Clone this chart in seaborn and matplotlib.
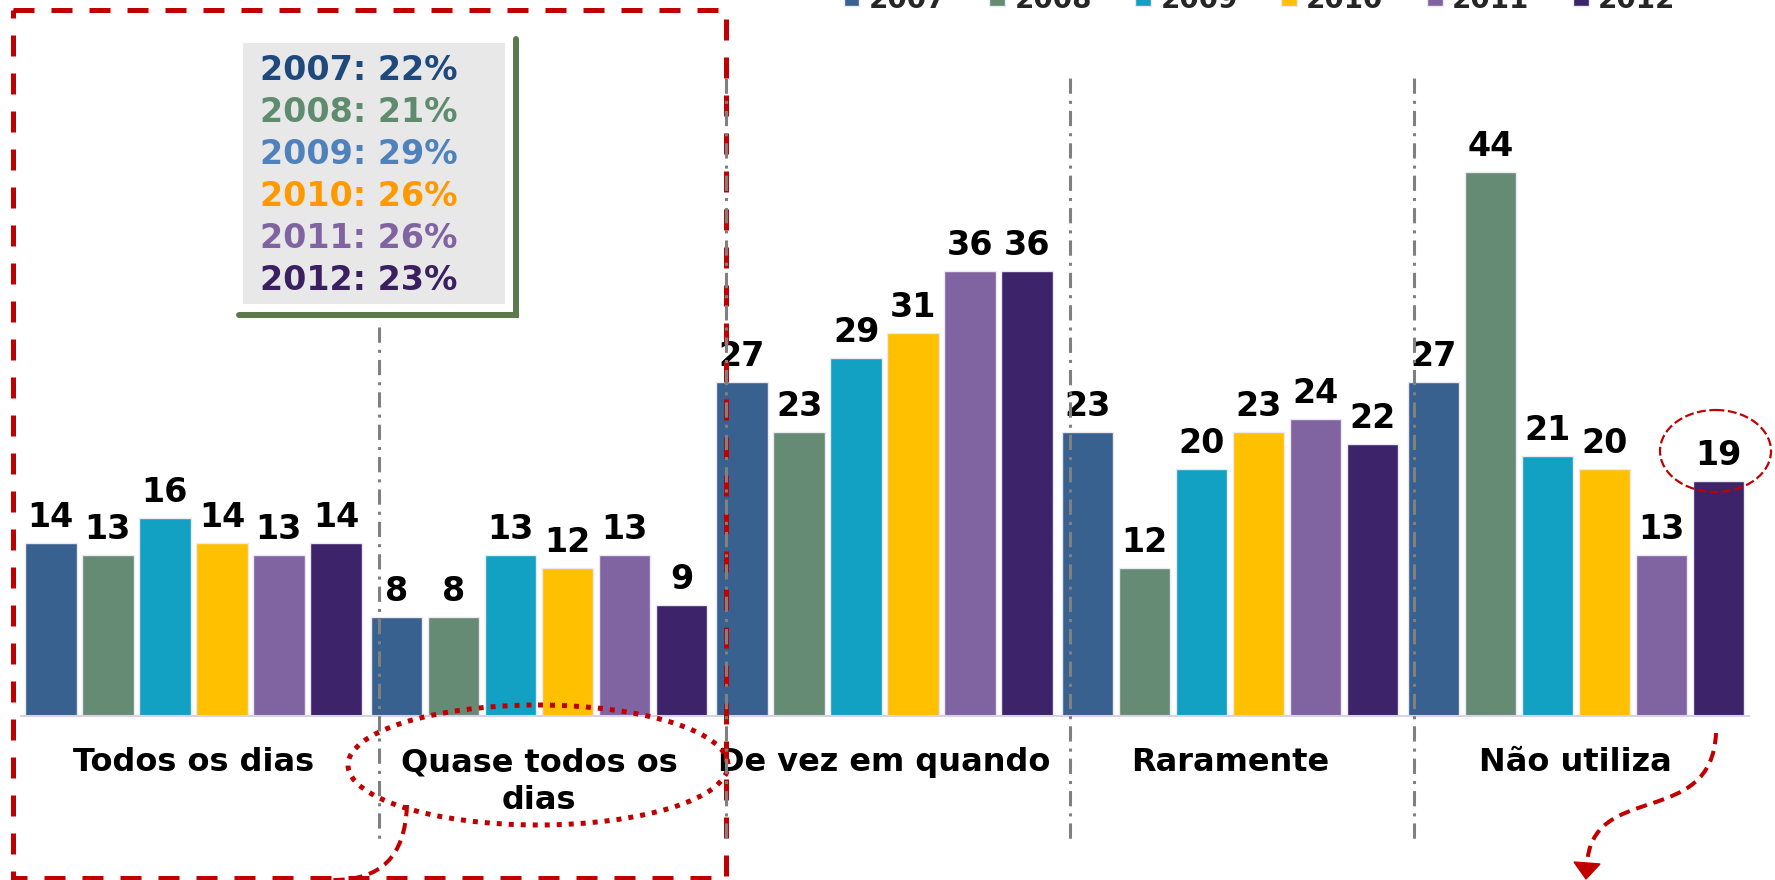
import numpy as np
import pandas as pd
import matplotlib
matplotlib.use("Agg")
import matplotlib.pyplot as plt
import seaborn as sns
from matplotlib.patches import Rectangle, Ellipse, PathPatch, Polygon
from matplotlib.path import Path

# ==== DATA ====
categories = ['Todos os dias', 'Quase todos os\ndias', 'De vez em quando', 'Raramente', 'Não utiliza']
years = ['2007', '2008', '2009', '2010', '2011', '2012']
v2007 = [14, 8, 27, 23, 27]
v2008 = [13, 8, 23, 12, 44]
v2009 = [16, 13, 29, 20, 21]
v2010 = [14, 12, 31, 23, 20]
v2011 = [13, 13, 36, 24, 13]
v2012 = [14, 9, 36, 22, 19]
box_pcts = [22, 21, 29, 26, 26, 23]

bar_colors = ['#38618F', '#668B74', '#12A0C3', '#FFC000', '#8064A2', '#3D2369']
box_colors = ['#1F497D', '#5F8B6E', '#4F81BD', '#FF9900', '#8064A2', '#3A2060']
RED = '#C00000'

# ==== LONG TABLE ====
rows = []
for yr, vals in zip(years, [v2007, v2008, v2009, v2010, v2011, v2012]):
    for cat, v in zip(categories, vals):
        rows.append([cat, yr, v])
df = pd.DataFrame(rows, columns=['categoria', 'ano', 'valor'])

# ==== PLOT ====
sns.set_style('white')
plt.rcParams['font.family'] = ['DejaVu Sans']

W, H = 1775, 880
fig = plt.figure(figsize=(W / 100, H / 100), dpi=100)
ax = fig.add_axes([20.6 / W, 164 / H, 1728 / W, 618 / H])

sns.barplot(data=df, x='categoria', y='valor', hue='ano', order=categories,
            hue_order=years, palette=bar_colors, saturation=1, width=0.99,
            gap=0.1, edgecolor='#ECE8F2', linewidth=1, errorbar=None, ax=ax)

ax.set_xlim(-0.5, 4.5)
ax.set_ylim(0, 50)
ax.set_xlabel('')
ax.set_ylabel('')
ax.set_yticks([])
ax.tick_params(axis='x', length=0, pad=22.5, labelsize=23, labelcolor='black')
for lab in ax.get_xticklabels():
    lab.set_fontweight('bold')
    lab.set_linespacing(1.3)
for s in ['left', 'top', 'right']:
    ax.spines[s].set_visible(False)
ax.spines['bottom'].set_color('#D9D2E6')
ax.spines['bottom'].set_linewidth(1.5)
ax.patch.set_alpha(0)

for cont in ax.containers:
    ax.bar_label(cont, padding=6.5, fontsize=24, fontweight='bold', color='black')

# legend at the top (cut by figure edge)
handles, labels = ax.get_legend_handles_labels()
ax.get_legend().remove()
fig.legend(handles, labels, loc='lower left', bbox_to_anchor=(843.5 / W, 0.9845),
           ncol=6, frameon=False, borderpad=0, borderaxespad=0,
           prop={'size': 20, 'weight': 'bold'}, handlelength=0.575,
           handleheight=0.575, handletextpad=0.32, columnspacing=1.57)

# ==== OVERLAY (pixel coordinates) ====
ov = fig.add_axes([0, 0, 1, 1], zorder=5)
ov.set_xlim(0, W)
ov.set_ylim(H, 0)
ov.axis('off')
ov.patch.set_alpha(0)

# separators
sep_x = [379, 726, 1070, 1414]
sep_top = [327, 78, 78, 78]
for x, yt in zip(sep_x, sep_top):
    ov.plot([x, x], [yt, 840], color='#808080', lw=2.2,
            linestyle=(0, (5, 2.3, 1, 2.3)), solid_capstyle='butt')

# summary box
ov.add_patch(Rectangle((243, 42.7), 262, 261.3, facecolor='#E8E8E8', edgecolor='none'))
ov.plot([516, 516, 239], [39, 315.5, 315.5], color='#5A7A4C', lw=4.3,
        solid_joinstyle='miter')
for i, (yr, p, c) in enumerate(zip(years, box_pcts, box_colors)):
    ov.text(259.6, 80 + 42 * i, f'{yr}: {p}%', color=c, fontsize=24,
            fontweight='bold', va='baseline', ha='left')

# red dashed rectangle
ov.add_patch(Rectangle((12.7, 10), 713.1, 868, fill=False, edgecolor=RED, lw=3.6,
                       linestyle=(0, (4.2, 3.4)), clip_on=False))

# dotted ellipse around "Quase todos os dias"
ov.add_patch(Ellipse((538, 765), 380, 120, fill=False, edgecolor=RED, lw=3.6,
                     linestyle=(0, (1, 1.4)), capstyle='butt'))

# connector from the ellipse
pth = Path([(407, 805), (405, 858), (380, 880), (333, 880)],
           [Path.MOVETO, Path.CURVE4, Path.CURVE4, Path.CURVE4])
ov.add_patch(PathPatch(pth, fill=False, edgecolor=RED, lw=2.9, linestyle=(0, (2.8, 1.7)),
                       clip_on=False))

# dashed ellipse around the 19
ov.add_patch(Ellipse((1715.5, 451), 111, 82, fill=False, edgecolor=RED, lw=1.6,
                     linestyle=(0, (4, 1.6))))

# curved arrow from "Não utiliza"
pth = Path([(1716, 733), (1712, 830), (1590, 780), (1587, 866)],
           [Path.MOVETO, Path.CURVE4, Path.CURVE4, Path.CURVE4])
ov.add_patch(PathPatch(pth, fill=False, edgecolor=RED, lw=2.9, linestyle=(0, (2.8, 1.7)),
                       clip_on=False))
ov.add_patch(Polygon([(1574, 862), (1600, 864), (1586, 879)], closed=True,
                     facecolor=RED, edgecolor=RED, lw=1, clip_on=False))

fig.savefig('out.png', dpi=100)
